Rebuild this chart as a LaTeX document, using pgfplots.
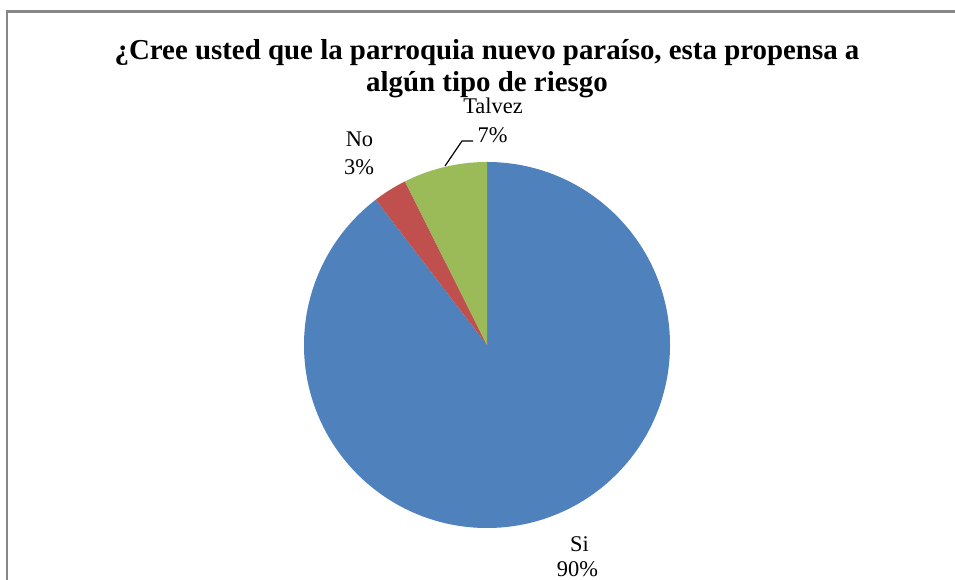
\documentclass[border=0pt]{standalone}
\usepackage{pgfplots}
\pgfplotsset{compat=1.18}
\usepackage{fontspec}
\setmainfont{Liberation Serif}
\definecolor{cSi}{HTML}{4F81BD}
\definecolor{cNo}{HTML}{C0504D}
\definecolor{cTal}{HTML}{9BBB59}
\definecolor{cBorder}{HTML}{888888}
% data (percent)
\def\vSi{89.6}
\def\vNo{3.0}
\def\vTal{7.4}
\begin{document}
\begin{tikzpicture}
\begin{axis}[x=1bp,y=1bp,xmin=0,xmax=955,ymin=0,ymax=580,
  hide axis, clip=false, scale only axis, anchor=south west, at={(0,0)}]
\path[use as bounding box] (axis cs:0,0) rectangle (axis cs:955,580);
% border
\draw[cBorder, line width=2.4bp] (axis cs:7,-20) -- (axis cs:7,568.5) -- (axis cs:975,568.5);
% wedges
\pgfmathsetmacro{\aSi}{-3.6*\vSi}
\pgfmathsetmacro{\aNo}{-3.6*\vNo}
\pgfmathsetmacro{\aTal}{-3.6*\vTal}
\pgfmathsetmacro{\sNo}{90+\aSi}
\pgfmathsetmacro{\sTal}{\sNo+\aNo}
\fill[cSi] (axis cs:487,235) -- ++(90:183bp) arc[start angle=90, delta angle=\aSi, radius=183bp] -- cycle;
\fill[cNo] (axis cs:487,235) -- ++(\sNo:183bp) arc[start angle=\sNo, delta angle=\aNo, radius=183bp] -- cycle;
\fill[cTal] (axis cs:487,235) -- ++(\sTal:183bp) arc[start angle=\sTal, delta angle=\aTal, radius=183bp] -- cycle;
% title
\node[font=\fontsize{29}{30}\selectfont\bfseries, anchor=base, inner sep=0pt] at (axis cs:487,520) {¿Cree usted que la parroquia nuevo paraíso, esta propensa a};
\node[font=\fontsize{29}{30}\selectfont\bfseries, anchor=base, inner sep=0pt] at (axis cs:487,488) {algún tipo de riesgo};
% labels
\node[font=\fontsize{22.5}{26}\selectfont, anchor=base, inner sep=0pt] at (axis cs:493,466) {Talvez};
\node[font=\fontsize{22.5}{26}\selectfont, anchor=base, inner sep=0pt] at (axis cs:492.5,437) {7\%};
\node[font=\fontsize{22.5}{26}\selectfont, anchor=base, inner sep=0pt] at (axis cs:359.5,433) {No};
\node[font=\fontsize{22.5}{26}\selectfont, anchor=base, inner sep=0pt] at (axis cs:359,405) {3\%};
\node[font=\fontsize{22.5}{26}\selectfont, anchor=base, inner sep=0pt] at (axis cs:579.5,28) {Si};
\node[font=\fontsize{22.5}{26}\selectfont, anchor=base, inner sep=0pt] at (axis cs:577.5,3) {90\%};
\draw[black, line width=1.2bp] (axis cs:445,414) -- (axis cs:462,439) -- (axis cs:473,439);
\end{axis}
\end{tikzpicture}
\end{document}
